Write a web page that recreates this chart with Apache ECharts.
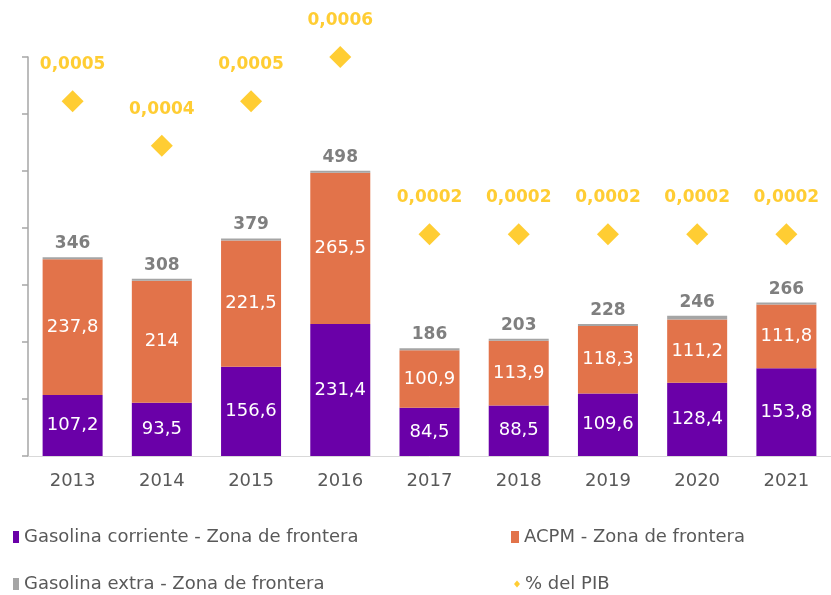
<!DOCTYPE html>
<html>
<head>
<meta charset="utf-8">
<script src="https://cdn.jsdelivr.net/npm/echarts@6/dist/echarts.min.js"></script>
<style>
  html, body { margin: 0; padding: 0; background: #ffffff; }
  #chart { width: 831px; height: 595px; }
</style>
</head>
<body>
<div id="chart"></div>
<script>
// Years on the category axis
const years = ['2013', '2014', '2015', '2016', '2017', '2018', '2019', '2020', '2021'];

// Stacked components (miles de millones)
const gasolinaCorriente = [107.2, 93.5, 156.6, 231.4, 84.5, 88.5, 109.6, 128.4, 153.8];
const acpm = [237.8, 214, 221.5, 265.5, 100.9, 113.9, 118.3, 111.2, 111.8];
const gasolinaExtra = [1.0, 0.5, 0.9, 1.1, 0.6, 0.6, 0.4, 6.4, 0.4];

// Share of GDP, drawn on the secondary axis
const pctPIB = [0.0005, 0.0004, 0.0005, 0.0006, 0.0002, 0.0002, 0.0002, 0.0002, 0.0002];

const FONT = '"DejaVu Sans"';
const fmtComma = v => String(v).replace('.', ',');

const totals = years.map((_, i) => gasolinaCorriente[i] + acpm[i] + gasolinaExtra[i]);

const chart = echarts.init(document.getElementById('chart'), null, { renderer: 'canvas' });

const legendBase = {
  itemWidth: 6,
  itemHeight: 12,
  itemGap: 5,
  textStyle: { color: '#595959', fontSize: 18, fontFamily: FONT },
  selectedMode: false
};

chart.setOption({
  animation: false,
  textStyle: { fontFamily: FONT },
  // plot area runs slightly past the right edge of the canvas
  grid: { left: 28, top: 57, width: 807, height: 399 },
  legend: [
    Object.assign({}, legendBase, { left: 8, top: 523, data: [{ name: 'Gasolina corriente - Zona de frontera', icon: 'rect' }] }),
    Object.assign({}, legendBase, { left: 506, top: 523, itemWidth: 8, data: [{ name: 'ACPM - Zona de frontera', icon: 'rect' }] }),
    Object.assign({}, legendBase, { left: 8, top: 570, data: [{ name: 'Gasolina extra - Zona de frontera', icon: 'rect' }] }),
    Object.assign({}, legendBase, { left: 509, top: 570, itemWidth: 6, itemHeight: 7, itemGap: 7, data: [{ name: '% del PIB', icon: 'diamond' }] })
  ],
  xAxis: {
    type: 'category',
    data: years,
    axisLine: { show: true, lineStyle: { color: '#d9d9d9', width: 1 } },
    axisTick: { show: false },
    axisLabel: { color: '#595959', fontSize: 18, fontFamily: FONT, margin: 16 }
  },
  yAxis: [
    {
      type: 'value',
      min: 0,
      max: 700,
      interval: 100,
      axisLine: { show: true, lineStyle: { color: '#a6a6a6', width: 1.5 } },
      axisTick: { show: true, inside: false, length: 6, lineStyle: { color: '#a6a6a6', width: 1.5 } },
      axisLabel: { show: false },
      splitLine: { show: false }
    },
    {
      type: 'value',
      min: -0.0003,
      max: 0.0006,
      show: false,
      splitLine: { show: false }
    }
  ],
  series: [
    {
      name: 'Gasolina corriente - Zona de frontera',
      type: 'bar',
      stack: 'total',
      barWidth: 60,
      data: gasolinaCorriente,
      itemStyle: { color: '#6a00a8' },
      label: {
        show: true,
        position: 'inside',
        color: '#ffffff',
        fontSize: 18,
        fontFamily: FONT,
        formatter: p => fmtComma(p.value)
      }
    },
    {
      name: 'ACPM - Zona de frontera',
      type: 'bar',
      stack: 'total',
      barWidth: 60,
      data: acpm,
      itemStyle: { color: '#e2734a' },
      label: {
        show: true,
        position: 'inside',
        color: '#ffffff',
        fontSize: 18,
        fontFamily: FONT,
        formatter: p => fmtComma(p.value)
      }
    },
    {
      name: 'Gasolina extra - Zona de frontera',
      type: 'bar',
      stack: 'total',
      barWidth: 60,
      barMinHeight: 2,
      data: gasolinaExtra,
      itemStyle: { color: '#a5a5a5' },
      label: {
        show: true,
        position: 'top',
        distance: 5,
        color: '#7f7f7f',
        fontSize: 17,
        fontWeight: 'bold',
        fontFamily: FONT,
        formatter: p => String(Math.round(totals[p.dataIndex]))
      }
    },
    {
      name: '% del PIB',
      type: 'scatter',
      yAxisIndex: 1,
      symbol: 'diamond',
      symbolSize: 22,
      data: pctPIB,
      itemStyle: { color: '#ffc000' },
      label: {
        show: true,
        position: 'top',
        distance: 17,
        color: '#ffc000',
        fontSize: 17,
        fontWeight: 'bold',
        fontFamily: FONT,
        formatter: p => p.value.toFixed(4).replace('.', ',')
      }
    }
  ]
});
</script>
</body>
</html>
